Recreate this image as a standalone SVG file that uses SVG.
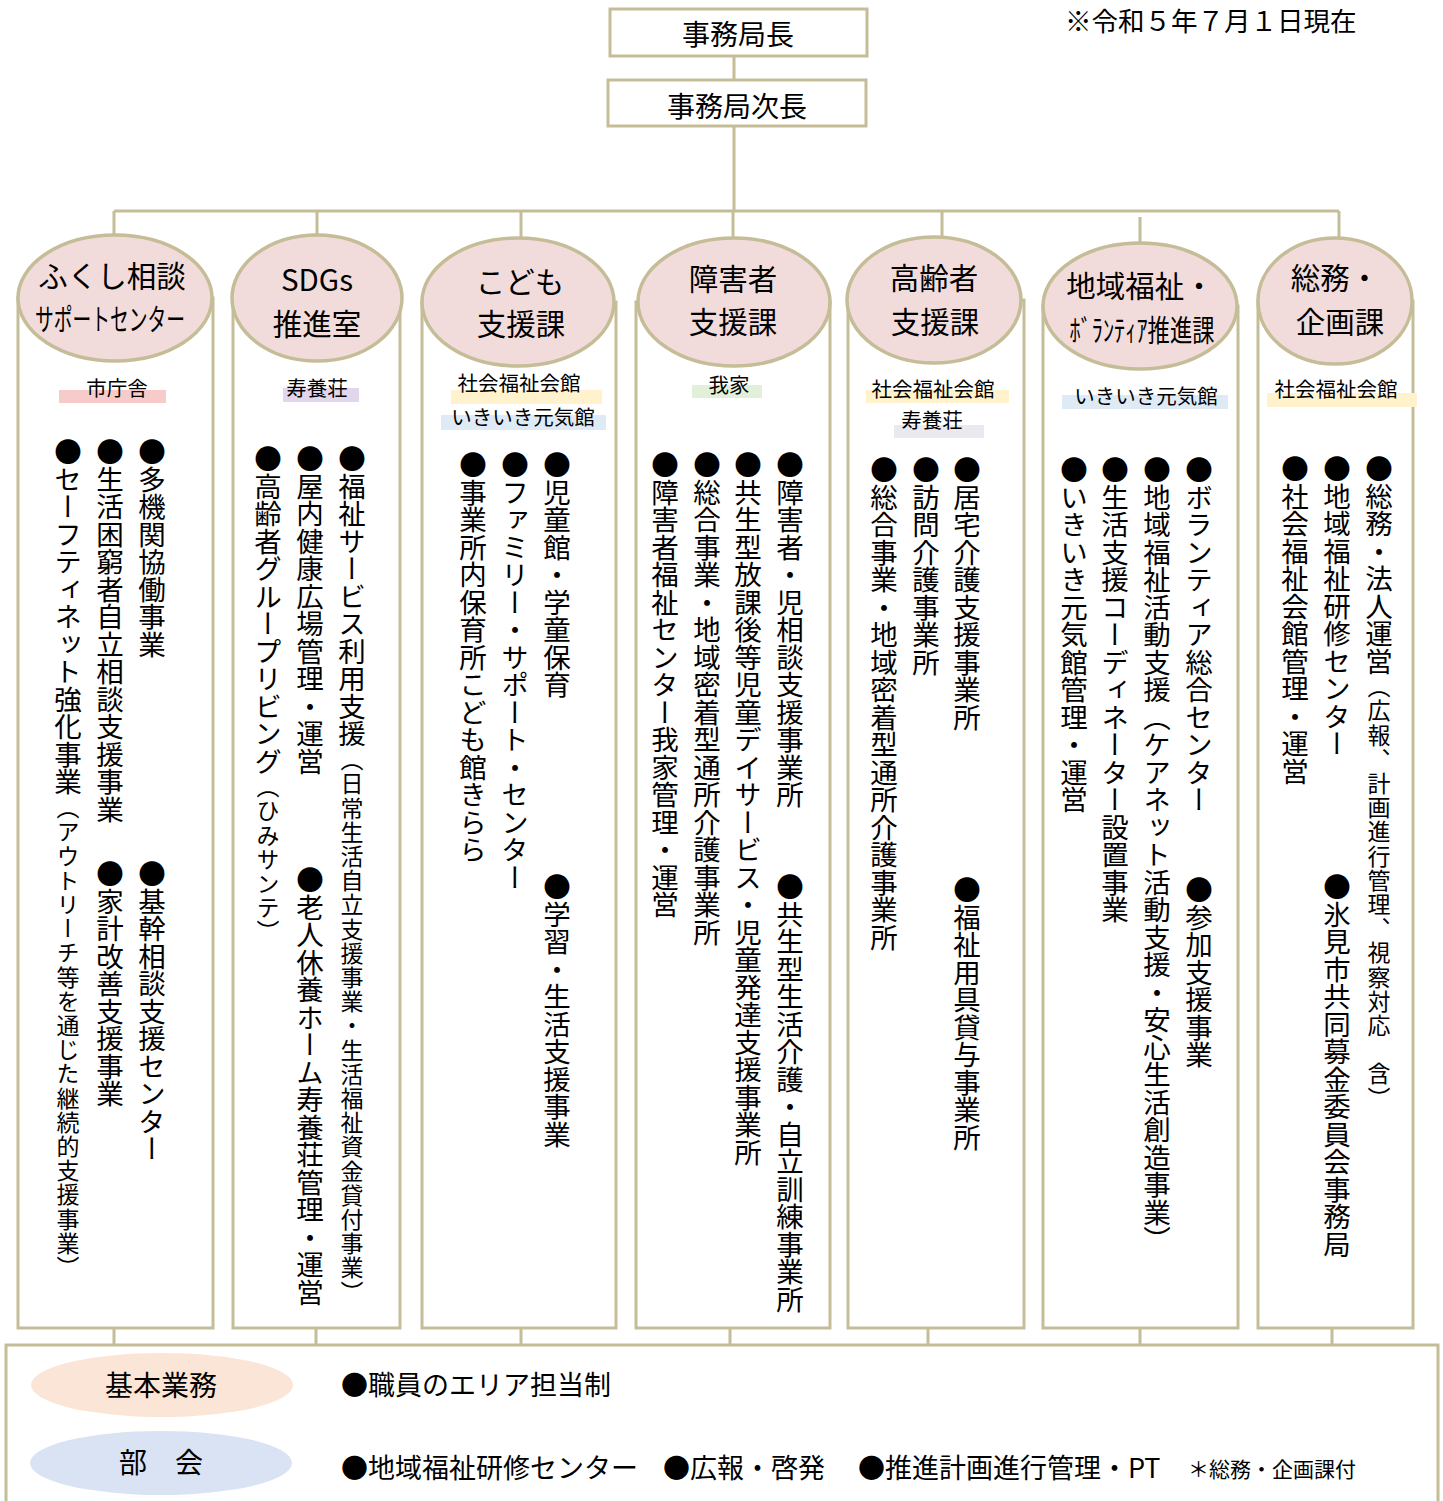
<svg xmlns="http://www.w3.org/2000/svg" width="1443" height="1501" viewBox="0 0 1443 1501">
<style>
text{font-family:"Noto Sans CJK JP","Noto Sans",sans-serif;fill:#000}
.box{fill:#fff;stroke:#c4bd97;stroke-width:3}
.col{fill:#fff;stroke:#c4bd97;stroke-width:3}
.hd{fill:#f2dcdb;stroke:#c4bd97;stroke-width:3.5}
.ln{stroke:#c4bd97;stroke-width:3;fill:none}
.t28{font-size:28px;text-anchor:middle;dominant-baseline:central}
.h{font-size:29.5px;text-anchor:middle;dominant-baseline:central}
.loc{font-size:20.5px;text-anchor:middle;dominant-baseline:central}
.v{writing-mode:vertical-rl;font-size:27.5px}
.s{font-size:23px;letter-spacing:1.2px}
.b{font-size:27px;dominant-baseline:central}
</style>
<rect width="1443" height="1501" fill="#fff"/>

<g id="connectors">
<path class="ln" d="M734 56V80M734 126V211M114 211H1339M114 211V235M317 211V235M521 211V238M733 211V238M942 211V237M1140 217V243M1339 211V238"/>
<path class="ln" d="M114 1328V1345M316 1328V1345M521 1328V1345M730 1328V1345M928 1325V1345M1140 1328V1345M1332 1328V1345"/>
</g>

<g id="director">
<rect class="box" x="610" y="9" width="257" height="47"/>
<text class="t28" x="738" y="33">事務局長</text>
</g>
<g id="deputy">
<rect class="box" x="608" y="80" width="258" height="46"/>
<text class="t28" x="737" y="105">事務局次長</text>
</g>
<text id="date" x="1065" y="19" font-size="26.5" dominant-baseline="central">※令和５年７月１日現在</text>

<g id="col1">
<rect class="col" x="18" y="298" width="195" height="1030"/>
<ellipse class="hd" cx="115" cy="298" rx="97" ry="63"/>
<text class="h" x="112" y="274">ふくし相談</text>
<text class="h" x="110" y="317" font-size="25" textLength="150" lengthAdjust="spacingAndGlyphs">サポートセンター</text>
<rect x="59" y="390" width="107" height="13" fill="#f8cbcb"/>
<text class="loc" x="117" y="387">市庁舎</text>
<text class="v" x="152" y="438">●多機関協働事業</text>
<text class="v" x="110" y="438">●生活困窮者自立相談支援事業</text>
<text class="v" x="68" y="438">●セーフティネット強化事業<tspan class="s">（アウトリーチ等を通じた継続的支援事業）</tspan></text>
<text class="v" x="152" y="860">●基幹相談支援センター</text>
<text class="v" x="110" y="860">●家計改善支援事業</text>
</g>

<g id="col2">
<rect class="col" x="233" y="298" width="167" height="1030"/>
<ellipse class="hd" cx="317" cy="298" rx="85" ry="63"/>
<text class="h" x="317" y="278">SDGs</text>
<text class="h" x="317" y="322">推進室</text>
<rect x="283" y="388" width="76" height="14" fill="#e2d6ec"/>
<text class="loc" x="317" y="387">寿養荘</text>
<text class="v" x="352" y="445">●福祉サービス利用支援<tspan class="s">（日常生活自立支援事業・生活福祉資金貸付事業）</tspan></text>
<text class="v" x="310" y="445">●屋内健康広場管理・運営</text>
<text class="v" x="268" y="445">●高齢者グループリビング<tspan class="s">（ひみサンテ）</tspan></text>
<text class="v" x="310" y="866">●老人休養ホーム寿養荘管理・運営</text>
</g>

<g id="col3">
<rect class="col" x="422" y="302" width="194" height="1026"/>
<ellipse class="hd" cx="518" cy="302" rx="96" ry="64"/>
<text class="h" x="520" y="280">こども</text>
<text class="h" x="521" y="322">支援課</text>
<rect x="451" y="390" width="151" height="14" fill="#fff2cc"/>
<text class="loc" x="519" y="382">社会福祉会館</text>
<rect x="441" y="415" width="165" height="15" fill="#deebf7"/>
<text class="loc" x="523" y="416">いきいき元気館</text>
<text class="v" x="557" y="451">●児童館・学童保育</text>
<text class="v" x="515" y="451">●ファミリー・サポート・センター</text>
<text class="v" x="473" y="451">●事業所内保育所こども館きらら</text>
<text class="v" x="557" y="873">●学習・生活支援事業</text>
</g>

<g id="col4">
<rect class="col" x="636" y="302" width="194" height="1026"/>
<ellipse class="hd" cx="734" cy="302" rx="96" ry="64"/>
<text class="h" x="733" y="277">障害者</text>
<text class="h" x="733" y="320">支援課</text>
<rect x="692" y="385" width="70" height="13" fill="#e2f0d9"/>
<text class="loc" x="729" y="384">我家</text>
<text class="v" x="790" y="451">●障害者・児相談支援事業所</text>
<text class="v" x="748" y="451">●共生型放課後等児童デイサービス・児童発達支援事業所</text>
<text class="v" x="707" y="451">●総合事業・地域密着型通所介護事業所</text>
<text class="v" x="665" y="451">●障害者福祉センター我家管理・運営</text>
<text class="v" x="790" y="873">●共生型生活介護・自立訓練事業所</text>
</g>

<g id="col5">
<rect class="col" x="848" y="300" width="176" height="1028"/>
<ellipse class="hd" cx="934" cy="300" rx="87" ry="63"/>
<text class="h" x="934" y="276">高齢者</text>
<text class="h" x="935" y="320">支援課</text>
<rect x="866" y="390" width="143" height="13" fill="#fff2cc"/>
<text class="loc" x="933" y="388">社会福祉会館</text>
<rect x="894" y="425" width="90" height="13" fill="#ebe9f0"/>
<text class="loc" x="932" y="419">寿養荘</text>
<text class="v" x="967" y="456">●居宅介護支援事業所</text>
<text class="v" x="926" y="456">●訪問介護事業所</text>
<text class="v" x="884" y="456">●総合事業・地域密着型通所介護事業所</text>
<text class="v" x="967" y="876">●福祉用具貸与事業所</text>
</g>

<g id="col6">
<rect class="col" x="1043" y="306" width="195" height="1022"/>
<ellipse class="hd" cx="1140" cy="306" rx="97" ry="63"/>
<text class="h" x="1140" y="284" font-size="28.5">地域福祉・</text>
<text class="h" x="1142" y="328" font-size="24" textLength="145" lengthAdjust="spacingAndGlyphs">ﾎﾞﾗﾝﾃｨｱ推進課</text>
<rect x="1062" y="395" width="166" height="14" fill="#deebf7"/>
<text class="loc" x="1146" y="395">いきいき元気館</text>
<text class="v" x="1199" y="456">●ボランティア総合センター</text>
<text class="v" x="1157" y="456">●地域福祉活動支援（ケアネット活動支援・安心生活創造事業）</text>
<text class="v" x="1115" y="456">●生活支援コーディネーター設置事業</text>
<text class="v" x="1074" y="456">●いきいき元気館管理・運営</text>
<text class="v" x="1199" y="876">●参加支援事業</text>
</g>

<g id="col7">
<rect class="col" x="1258" y="301" width="155" height="1027"/>
<ellipse class="hd" cx="1335" cy="301" rx="77" ry="63"/>
<text class="h" x="1335" y="276">総務・</text>
<text class="h" x="1340" y="320">企画課</text>
<rect x="1267" y="393" width="150" height="14" fill="#fff2cc"/>
<text class="loc" x="1336" y="388">社会福祉会館</text>
<text class="v" x="1379" y="455">●総務・法人運営<tspan class="s">（広報、計画進行管理、視察対応　含）</tspan></text>
<text class="v" x="1337" y="455">●地域福祉研修センター</text>
<text class="v" x="1295" y="455">●社会福祉会館管理・運営</text>
<text class="v" x="1337" y="873">●氷見市共同募金委員会事務局</text>
</g>

<g id="common">
<rect class="box" x="6" y="1345" width="1432" height="180"/>
<ellipse cx="162" cy="1385" rx="131" ry="32" fill="#fbe5d6"/>
<text class="t28" x="161" y="1384" font-size="27">基本業務</text>
<ellipse cx="161" cy="1463" rx="131" ry="32" fill="#dae3f3"/>
<text class="t28" x="161" y="1461" font-size="27">部　会</text>
<text class="b" x="341" y="1383">●職員のエリア担当制</text>
<text class="b" x="341" y="1466">●地域福祉研修センター</text>
<text class="b" x="663" y="1466">●広報・啓発</text>
<text class="b" x="858" y="1466">●推進計画進行管理・PT</text>
<text x="1188" y="1468" font-size="21" dominant-baseline="central">＊総務・企画課付</text>
</g>
</svg>
